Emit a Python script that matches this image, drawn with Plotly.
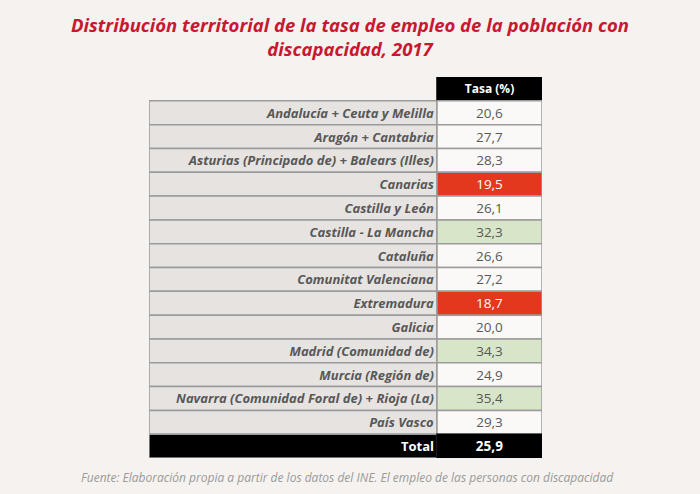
import plotly.graph_objects as go

regions = [
    "Andalucía + Ceuta y Melilla",
    "Aragón + Cantabria",
    "Asturias (Principado de) + Balears (Illes)",
    "Canarias",
    "Castilla y León",
    "Castilla - La Mancha",
    "Cataluña",
    "Comunitat Valenciana",
    "Extremadura",
    "Galicia",
    "Madrid (Comunidad de)",
    "Murcia (Región de)",
    "Navarra (Comunidad Foral de) + Rioja (La)",
    "País Vasco",
]
rates = [20.6, 27.7, 28.3, 19.5, 26.1, 32.3, 26.6, 27.2, 18.7, 20.0, 34.3, 24.9, 35.4, 29.3]
total_label = "Total"
total_rate = 25.9
low_regions = ["Canarias", "Extremadura"]
high_regions = ["Castilla - La Mancha", "Madrid (Comunidad de)", "Navarra (Comunidad Foral de) + Rioja (La)"]
header_label = "Tasa (%)"
title_text = "Distribución territorial de la tasa de empleo de la población con<br>discapacidad, 2017"
source_text = "Fuente: Elaboración propia a partir de los datos del INE. El empleo de las personas con discapacidad"

BG = "#f5f2ef"
LABEL_FILL = "#e6e3e1"
VALUE_FILL = "#fbf9f7"
RED = "#e3371e"
GREEN = "#d7e6c8"
BORDER = "#9b9b9b"
TEXT = "#585858"
FONT = "Open Sans"

W, H = 700, 494
X0, X1 = 149, 542
Y0, Y1 = 77, 458
LABEL_W, VALUE_W = 288, 105


def fmt(v):
    return f"{v:.1f}".replace(".", ",")


def px_to_paper_x(px):
    return (px - X0) / (X1 - X0)


def px_to_paper_y(py):
    return (Y1 - py) / (Y1 - Y0)


HEADER_KEY = "__header__"
row_keys = [HEADER_KEY] + regions + [total_label]

# label column
label_text = [""] + [f"<b><i>{r}</i></b>" for r in regions] + [f"<b>{total_label}</b>"]
label_fill = [BG] + [LABEL_FILL] * len(regions) + ["#000000"]
label_line_w = [0] + [1.5] * (len(regions) + 1)
label_line_c = [BG] + [BORDER] * (len(regions) + 1)
label_color = [TEXT] + [TEXT] * len(regions) + ["#ffffff"]

# value column
value_text = [f"<b>{header_label}</b>"] + [fmt(v) for v in rates] + [f"<b>{fmt(total_rate)}</b>"]
value_fill = ["#000000"]
value_color = ["#ffffff"]
for r in regions:
    if r in low_regions:
        value_fill.append(RED); value_color.append("#ffffff")
    elif r in high_regions:
        value_fill.append(GREEN); value_color.append(TEXT)
    else:
        value_fill.append(VALUE_FILL); value_color.append(TEXT)
value_fill.append("#000000"); value_color.append("#ffffff")
value_line_c = ["#000000"] + [BORDER] * len(regions) + ["#000000"]
value_size = [12] + [13.5] * len(regions) + [13.5]

fig = go.Figure()
fig.add_trace(go.Bar(
    orientation="h", y=row_keys, x=[LABEL_W] * len(row_keys), base=0,
    marker=dict(color=label_fill, line=dict(color=label_line_c, width=label_line_w)),
    text=label_text, textposition="inside", insidetextanchor="end", textangle=0,
    constraintext="none",
    textfont=dict(family=FONT, size=13, color=label_color),
    hoverinfo="skip", showlegend=False,
))
fig.add_trace(go.Bar(
    orientation="h", y=row_keys, x=[VALUE_W] * len(row_keys), base=LABEL_W,
    marker=dict(color=value_fill, line=dict(color=value_line_c, width=1.5)),
    text=value_text, textposition="inside", insidetextanchor="middle", textangle=0,
    constraintext="none",
    textfont=dict(family=FONT, size=value_size, color=value_color),
    hoverinfo="skip", showlegend=False,
))

fig.update_layout(
    width=W, height=H,
    margin=dict(l=X0, r=W - X1, t=Y0, b=H - Y1),
    paper_bgcolor=BG, plot_bgcolor=BG,
    barmode="overlay", bargap=0,
    xaxis=dict(range=[0, LABEL_W + VALUE_W], visible=False, fixedrange=True),
    yaxis=dict(categoryorder="array", categoryarray=row_keys, autorange="reversed",
               visible=False, fixedrange=True),
    annotations=[
        dict(text=f"<b><i>{title_text}</i></b>", x=px_to_paper_x(350), y=px_to_paper_y(37),
             xref="paper", yref="paper",
             xanchor="center", yanchor="middle", showarrow=False,
             font=dict(family=FONT, size=18.5, color="#c8182f")),
        dict(text=f"<i>{source_text}</i>", x=px_to_paper_x(347), y=px_to_paper_y(477),
             xref="paper", yref="paper",
             xanchor="center", yanchor="middle", showarrow=False,
             font=dict(family=FONT, size=12, color="#9a9a9a")),
    ],
)

fig.write_html(
    "out.html",
    config={"displayModeBar": False, "staticPlot": True},
    post_script="document.body.style.margin='0';document.body.style.background='%s';" % BG,
)
